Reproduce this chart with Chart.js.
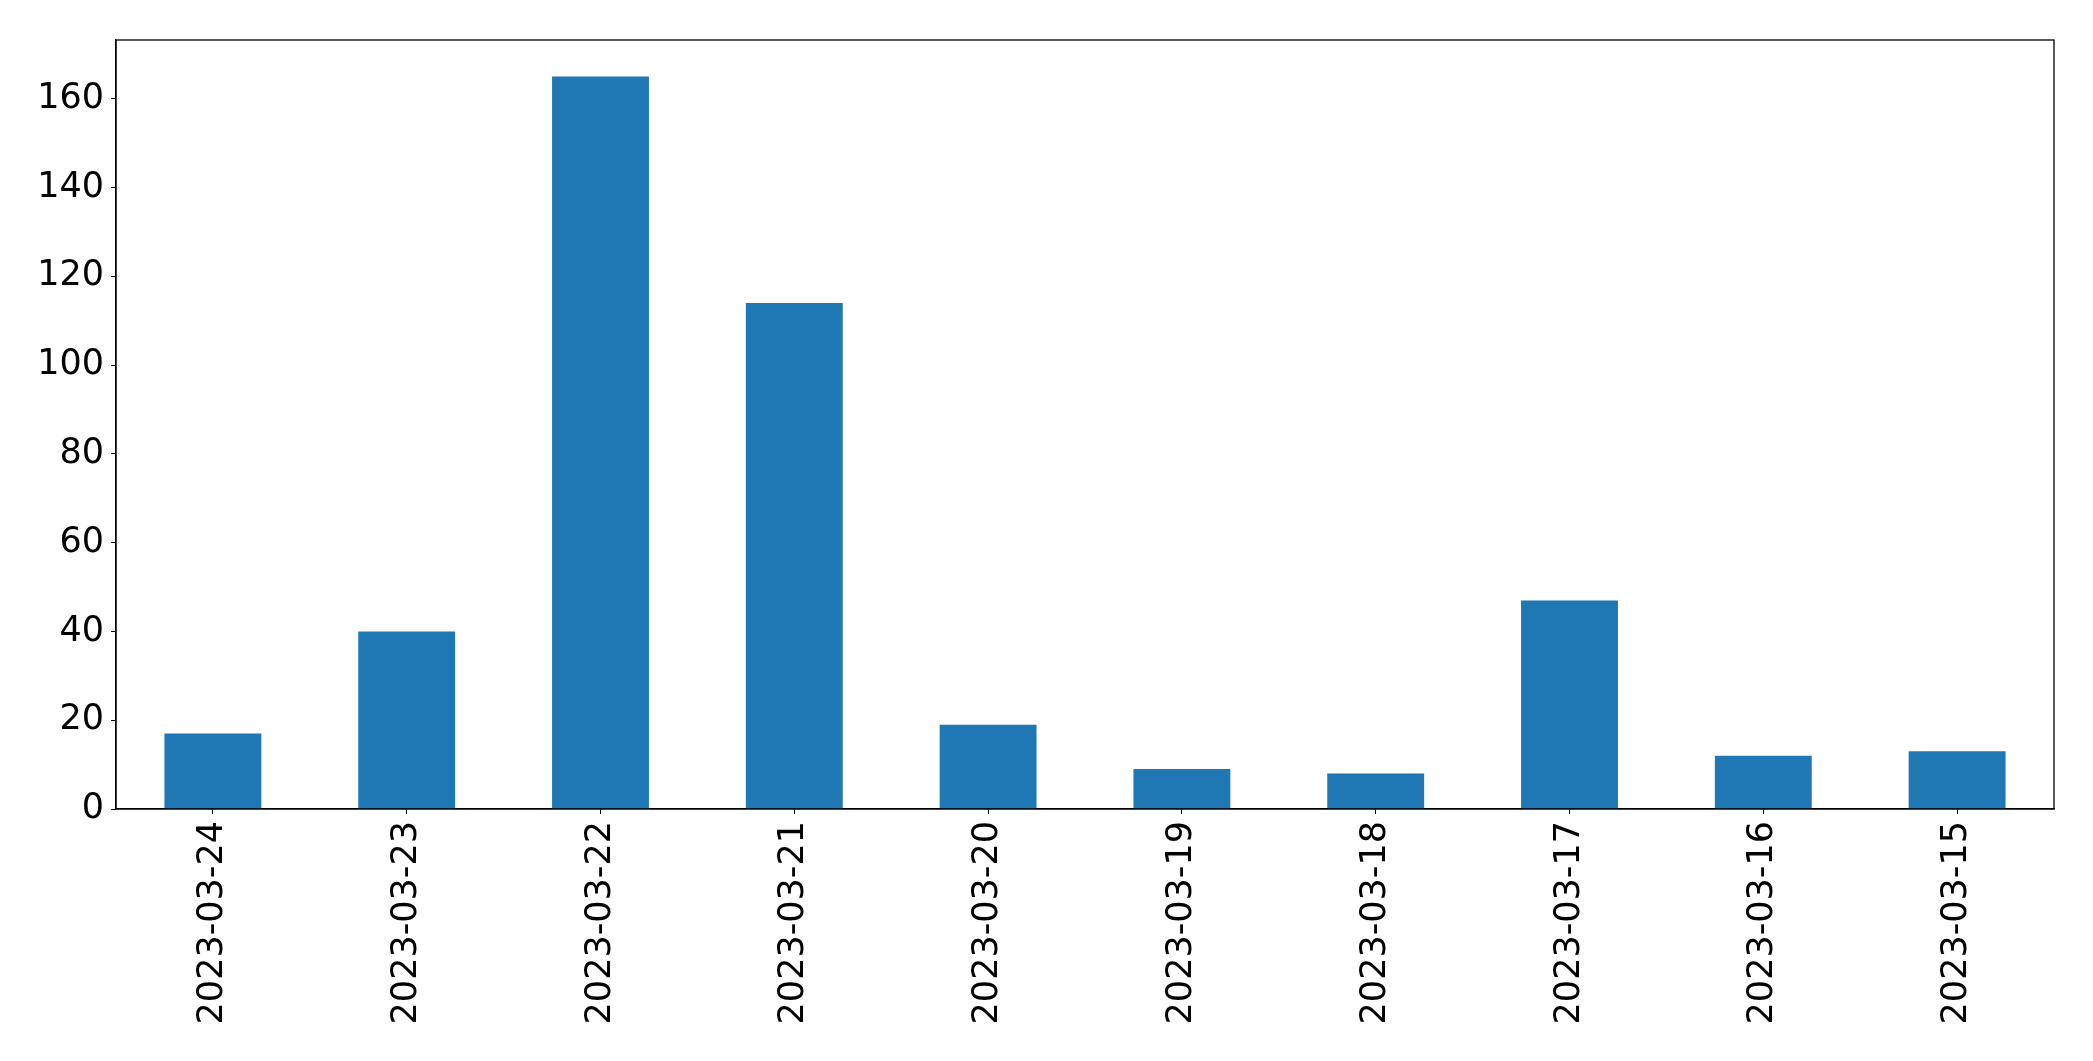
<!DOCTYPE html>
<html>
<head>
<meta charset="utf-8">
<script src="https://cdn.jsdelivr.net/npm/chart.js@4/dist/chart.umd.min.js"></script>
<style>
  html, body { margin: 0; padding: 0; background: #fff; }
  canvas { display: block; }
</style>
</head>
<body>
<canvas id="dayChart" width="2093" height="1061"></canvas>
<script>
const dates = ['2023-03-24', '2023-03-23', '2023-03-22', '2023-03-21', '2023-03-20',
               '2023-03-19', '2023-03-18', '2023-03-17', '2023-03-16', '2023-03-15']
const counts = [17, 40, 165, 114, 19, 9, 8, 47, 12, 13]
const yTicks = [0, 20, 40, 60, 80, 100, 120, 140, 160]

// matplotlib-style 5% headroom above the tallest bar
const yMax = Math.max(...counts) * 1.05

// box round the plot area
const frame = {
    id: 'frame',
    afterDraw(chart) {
        const {ctx, chartArea: a} = chart
        ctx.save()
        ctx.strokeStyle = '#000'
        ctx.lineWidth = 1.3
        ctx.strokeRect(a.left, a.top, a.right - a.left, a.bottom - a.top)
        ctx.restore()
    }
}

const config = {
    type: 'bar',
    data: {
        labels: dates,
        datasets: [{
            data: counts,
            backgroundColor: '#1f77b4',
            borderWidth: 0,
            categoryPercentage: 1.0,
            barPercentage: 0.5
        }]
    },
    options: {
        responsive: false,
        animation: false,
        layout: { padding: { top: 40, right: 39, left: 0, bottom: 0 } },
        plugins: {
            legend: { display: false },
            tooltip: { enabled: false }
        },
        scales: {
            x: {
                offset: true,
                grid: { display: true, drawOnChartArea: false, tickLength: 5, tickColor: '#000', offset: false },
                border: { display: true, color: '#000', width: 1.3 },
                ticks: {
                    color: '#000',
                    font: { family: 'DejaVu Sans', size: 35 },
                    minRotation: 90,
                    maxRotation: 90,
                    padding: 7,
                    autoSkip: false
                },
                afterFit: s => { s.height = 1061 - 809 }
            },
            y: {
                min: 0,
                max: yMax,
                grid: { display: true, drawOnChartArea: false, tickLength: 5, tickColor: '#000' },
                border: { display: true, color: '#000', width: 1.3 },
                ticks: {
                    color: '#000',
                    font: { family: 'DejaVu Sans', size: 35 },
                    stepSize: 20,
                    includeBounds: false,
                    padding: 7
                },
                afterBuildTicks: s => { s.ticks = yTicks.map(v => ({ value: v })) },
                afterFit: s => { s.width = 116 }
            }
        }
    },
    plugins: [frame]
}

const myChart = new Chart(document.getElementById('dayChart'), config)
</script>
</body>
</html>
